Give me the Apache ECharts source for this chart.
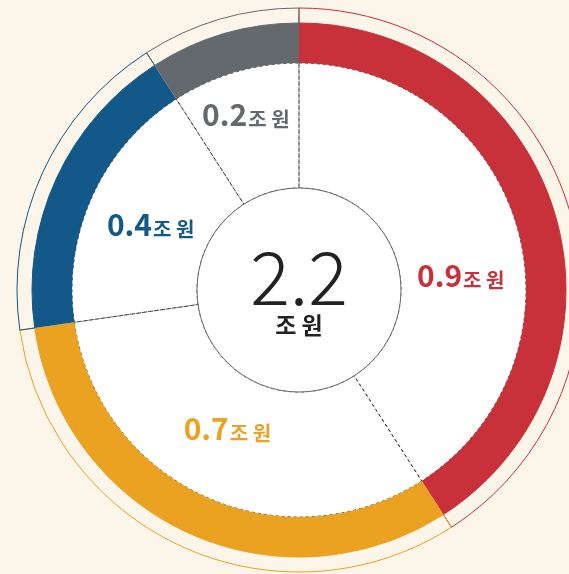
<!DOCTYPE html>
<html>
<head>
<meta charset="utf-8">
<script src="https://cdn.jsdelivr.net/npm/echarts@6/dist/echarts.min.js"></script>
<style>
  html, body { margin: 0; padding: 0; background: #fcf5ea; }
  #chart { width: 569px; height: 574px; }
</style>
</head>
<body>
<div id="chart"></div>
<script>
// 단위: 조 원
var categories = ['A', 'B', 'C', 'D'];
var values = [0.9, 0.7, 0.4, 0.2];
var colors = ['#c8303a', '#eba221', '#12598a', '#64696e'];
var unit = '조 원';

var total = values.reduce(function (s, v) { return s + v; }, 0);
var FONT = '"Noto Sans CJK KR", "Noto Sans", sans-serif';
var CENTER = [299, 290];
// 라벨 미세 조정 (px)
var labelOffsets = [[1, 32], [-2, -15], [4, 3], [-6, -16]];

var chart = echarts.init(document.getElementById('chart'));

function ringData(fill) {
    return values.map(function (v, i) {
        return {
            name: categories[i],
            value: v,
            itemStyle: fill ? { color: colors[i] } : { color: 'rgba(0,0,0,0)', borderColor: colors[i] }
        };
    });
}

var option = {
    backgroundColor: '#fcf5ea',
    animation: false,
    series: [
        {   // 흰 원판
            type: 'pie', silent: true, z: 1,
            center: CENTER, radius: [0, 227],
            label: { show: false }, labelLine: { show: false },
            itemStyle: { color: '#ffffff' },
            data: [{ value: 1 }]
        },
        {   // 점선 구분 + 라벨
            type: 'pie', silent: true, z: 2,
            center: CENTER, radius: [102, 227],
            startAngle: 90, clockwise: true, avoidLabelOverlap: false,
            itemStyle: { color: 'rgba(0,0,0,0)', borderColor: '#444', borderWidth: 1, borderType: [3, 3] },
            labelLine: { show: false },
            data: values.map(function (v, i) {
                return {
                    name: categories[i],
                    value: v,
                    label: {
                        show: true,
                        position: 'inside',
                        offset: labelOffsets[i],
                        formatter: '{v|' + v.toFixed(1) + '}{u|' + unit + '}',
                        rich: {
                            v: { fontFamily: FONT, fontSize: 30, fontWeight: 'bold', color: colors[i], verticalAlign: 'bottom', lineHeight: 32 },
                            u: { fontFamily: FONT, fontSize: 20, fontWeight: 'bold', color: colors[i], verticalAlign: 'bottom', lineHeight: 28, padding: [0, 0, 0, 1] }
                        }
                    }
                };
            })
        },
        {   // 색 띠
            type: 'pie', silent: true, z: 3,
            center: CENTER, radius: [227, 267],
            startAngle: 90, clockwise: true,
            label: { show: false }, labelLine: { show: false },
            itemStyle: { borderWidth: 0 },
            data: ringData(true)
        },
        {   // 바깥 테두리
            type: 'pie', silent: true, z: 3,
            center: CENTER, radius: [267, 282],
            startAngle: 90, clockwise: true,
            label: { show: false }, labelLine: { show: false },
            itemStyle: { borderWidth: 1 },
            data: ringData(false)
        },
        {   // 가운데 원 + 합계
            type: 'pie', silent: true, z: 4,
            center: CENTER, radius: [0, 102],
            itemStyle: { color: '#ffffff', borderColor: '#6a6a6a', borderWidth: 1 },
            labelLine: { show: false },
            label: {
                show: true,
                position: 'center',
                formatter: '{a|' + total.toFixed(1) + '}\n{b|' + unit + '}',
                rich: {
                    a: { fontFamily: FONT, fontSize: 74, fontWeight: 300, color: '#222', lineHeight: 70 },
                    b: { fontFamily: FONT, fontSize: 23, fontWeight: 'bold', color: '#222', lineHeight: 26 }
                }
            },
            data: [{ value: total }]
        }
    ]
};

chart.setOption(option);
</script>
</body>
</html>
